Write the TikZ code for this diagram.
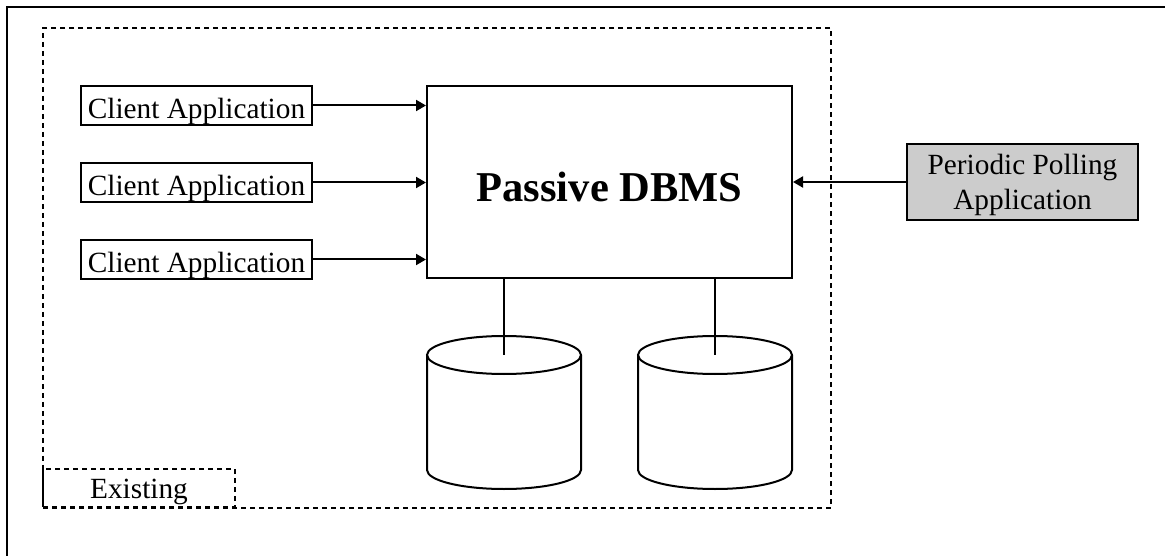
\documentclass[tikz,border=0pt]{standalone}
\usepackage{fontspec}
\setmainfont{Liberation Serif}
\usetikzlibrary{arrows.meta}
\begin{document}
\begin{tikzpicture}[x=1pt,y=-1pt,
  appbox/.style={draw, line width=2pt, inner sep=0pt, minimum width=231pt, minimum height=39pt,
    text height=25.6pt, text depth=0pt, font=\fontsize{29.3}{35}\selectfont},
  flow/.style={line width=2pt, -{Triangle[length=10pt,width=11pt]}},
  region/.style={draw, line width=2.2pt, dash pattern=on 5pt off 4pt, inner sep=0pt},
  drum/.style={line width=2pt}]
\useasboundingbox (0,0) rectangle (1165,556);

% frame edges
\draw[line width=2.6pt] (7,556) -- (7,7) -- (1165,7);

% boundary of the existing system
\node[region, minimum width=788pt, minimum height=480pt] (area) at (437,268) {};
\node[region, minimum width=192pt, minimum height=38pt, text height=20pt, text depth=0pt,
  font=\fontsize{29.3}{35}\selectfont] (existing) at (139,488) {Existing};

% the DBMS
\node[draw, line width=2pt, inner sep=0pt, minimum width=365pt, minimum height=192pt,
  text height=40pt, text depth=0pt, font=\fontsize{42.5}{50}\selectfont\bfseries]
  (dbms) at (609.5,182) {Passive DBMS};

% client applications
\node[appbox] (c1) at (196.5,105.5) {Client Application};
\node[appbox] (c2) at (196.5,182.5) {Client Application};
\node[appbox] (c3) at (196.5,259.5) {Client Application};
\foreach \c in {c1,c2,c3}
  \draw[flow] (\c.east) -- (\c.east -| dbms.west);

% polling application
\node[draw, line width=2pt, fill=black!20, inner sep=0pt, minimum width=231pt, minimum height=76pt,
  align=center, text height=56pt, text depth=0pt, font=\fontsize{29.3}{35}\selectfont]
  (poll) at (1022.5,182) {Periodic Polling\\Application};
\draw[flow] (poll.west) -- (poll.west -| dbms.east);

% storage cylinders
\foreach \cx/\nm in {504/db1, 715/db2}{
  \coordinate (\nm) at (\cx,355);
  \draw[drum] (\nm) ellipse[x radius=77, y radius=19];
  \draw[drum] ({\cx-77},355) -- ({\cx-77},470)
    arc[start angle=180, end angle=0, x radius=77, y radius=19] -- ({\cx+77},355);
  \draw[drum] (\nm |- dbms.south) -- (\nm);
}
\end{tikzpicture}
\end{document}
